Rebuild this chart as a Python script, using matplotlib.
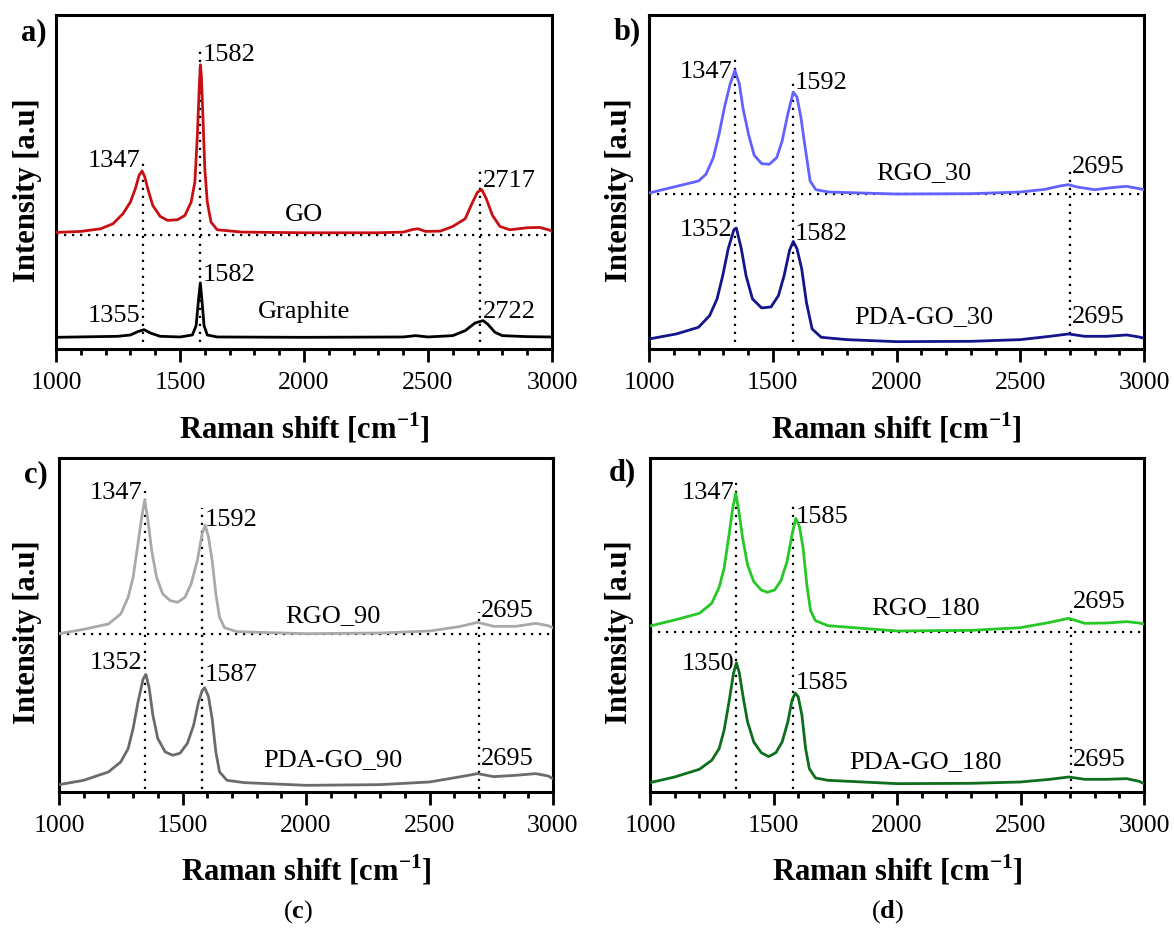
import matplotlib
matplotlib.use('Agg')
import matplotlib.pyplot as plt
from matplotlib.ticker import MultipleLocator

plt.rcParams['font.family'] = ['Liberation Serif', 'DejaVu Serif']
plt.rcParams['mathtext.fontset'] = 'custom'
plt.rcParams['mathtext.rm'] = 'Liberation Serif'
plt.rcParams['mathtext.bf'] = 'Liberation Serif:bold'

# ---------------- data (Raman shift in cm-1, intensity in arbitrary units) ----------------
go_x = [1000, 1100, 1180, 1230, 1270, 1300, 1320, 1335, 1347, 1358, 1370, 1390, 1420, 1450, 1490,
        1520, 1545, 1560, 1570, 1578, 1582, 1586, 1590, 1600, 1610, 1625, 1650, 1750, 2000, 2300,
        2400, 2440, 2460, 2490, 2550, 2600, 2650, 2680, 2700, 2717, 2735, 2760, 2790, 2830, 2900,
        2950, 2990, 3000]
go_y = [34.9, 35.2, 36.0, 37.5, 40.5, 44.0, 48.0, 52.0, 53.3, 51.5, 48.0, 43.0, 39.7, 38.5, 38.7,
        40.0, 44.0, 50.0, 64.0, 79.0, 85.1, 82.0, 74.4, 54.0, 44.0, 38.0, 35.7, 35.0, 34.8, 34.8,
        35.0, 35.8, 36.0, 35.2, 35.3, 36.7, 39.0, 44.0, 47.0, 47.7, 45.0, 40.0, 36.7, 35.7, 36.3,
        36.4, 35.6, 35.2]
graphite_x = [1000, 1250, 1300, 1330, 1355, 1380, 1420, 1500, 1550, 1565, 1575, 1582, 1588, 1597,
              1610, 1650, 2000, 2400, 2450, 2500, 2600, 2650, 2690, 2722, 2740, 2770, 2800, 2900, 3000]
graphite_y = [3.5, 3.8, 4.2, 5.2, 5.8, 4.8, 3.8, 3.6, 4.2, 7.0, 15.0, 19.8, 15.0, 7.0,
              4.2, 3.6, 3.5, 3.6, 4.0, 3.6, 4.0, 5.5, 7.8, 8.5, 7.5, 5.0, 4.0, 3.7, 3.6]

rgo30_x = [1000, 1100, 1200, 1230, 1260, 1283, 1305, 1328, 1347, 1365, 1380, 1403, 1425, 1455,
           1486, 1516, 1538, 1561, 1583, 1598, 1614, 1629, 1651, 1674, 1726, 2000, 2300,
           2500, 2600, 2660, 2695, 2730, 2800, 2880, 2930, 2980, 3000]
rgo30_y = [46.7, 48.5, 50.3, 52.3, 57.3, 64.3, 72.4, 79.4, 83.4, 79.4, 72.0, 64.0, 58.0, 55.5,
           55.3, 57.3, 62.3, 70.4, 76.9, 75.4, 69.3, 61.3, 50.3, 47.7, 47.0, 46.4, 46.5,
           47.0, 47.8, 48.8, 49.2, 48.5, 47.7, 48.4, 48.7, 48.0, 47.7]
pda30_x = [1000, 1110, 1200, 1245, 1275, 1298, 1320, 1343, 1353, 1373, 1392, 1418, 1455, 1493,
           1523, 1546, 1568, 1583, 1598, 1617, 1636, 1659, 1696, 1800, 2000, 2300,
           2500, 2620, 2695, 2760, 2850, 2930, 2980, 3000]
pda30_y = [3.0, 4.5, 6.5, 10.0, 15.0, 22.0, 30.0, 35.7, 36.2, 30.0, 22.0, 15.0, 12.3, 12.6,
           16.0, 22.0, 29.6, 32.2, 30.0, 24.0, 14.0, 6.0, 3.5, 2.8, 2.2, 2.3,
           2.8, 3.8, 4.5, 3.8, 3.8, 4.2, 3.6, 3.2]

rgo90_x = [1000, 1100, 1200, 1250, 1280, 1300, 1320, 1335, 1347, 1360, 1375, 1395, 1420, 1450,
           1480, 1510, 1535, 1560, 1580, 1592, 1605, 1620, 1635, 1650, 1670, 1720, 2000, 2300,
           2500, 2620, 2695, 2760, 2850, 2930, 2980, 3000]
rgo90_y = [47.4, 48.7, 50.3, 53.3, 58.3, 64.3, 74.4, 82.4, 87.4, 81.4, 72.4, 64.3, 59.3, 57.3,
           56.8, 58.3, 62.3, 69.3, 77.4, 79.9, 76.4, 69.3, 59.3, 52.3, 49.2, 48.0, 47.4, 47.6,
           48.2, 49.5, 50.8, 49.6, 49.6, 50.5, 49.8, 49.2]
pda90_x = [1000, 1100, 1200, 1250, 1280, 1300, 1320, 1340, 1352, 1365, 1380, 1400, 1430, 1460,
           1490, 1520, 1545, 1565, 1580, 1590, 1605, 1620, 1635, 1650, 1680, 1750, 2000, 2300,
           2500, 2620, 2695, 2760, 2850, 2930, 2980, 3000]
pda90_y = [2.2, 3.5, 6.0, 9.0, 13.0, 19.0, 27.0, 33.7, 35.2, 31.2, 23.0, 16.0, 12.0, 11.0,
           11.6, 14.6, 20.0, 27.0, 30.4, 31.2, 28.6, 22.0, 12.0, 6.0, 3.5, 2.8, 2.0, 2.2,
           3.0, 4.5, 5.5, 4.6, 5.0, 5.5, 4.8, 4.0]

rgo180_x = [1000, 1100, 1200, 1250, 1280, 1300, 1320, 1335, 1347, 1360, 1375, 1395, 1420, 1450,
            1475, 1505, 1530, 1555, 1575, 1590, 1605, 1620, 1635, 1650, 1670, 1720, 2000, 2300,
            2500, 2620, 2695, 2760, 2850, 2930, 2980, 3000]
rgo180_y = [49.7, 51.5, 53.5, 56.5, 61.3, 67.0, 77.0, 85.0, 89.4, 84.0, 76.0, 68.0, 63.0, 60.5,
            59.8, 60.5, 63.3, 69.0, 77.0, 81.9, 79.5, 73.0, 62.0, 54.3, 51.3, 49.8, 48.2, 48.4,
            49.2, 50.8, 52.0, 50.5, 50.6, 51.0, 50.6, 50.3]
pda180_x = [1000, 1100, 1200, 1250, 1280, 1300, 1320, 1338, 1350, 1362, 1378, 1395, 1420, 1450,
            1480, 1510, 1535, 1558, 1575, 1588, 1600, 1615, 1630, 1645, 1670, 1720, 2000, 2300,
            2500, 2620, 2695, 2760, 2850, 2930, 2980, 3000]
pda180_y = [2.8, 4.5, 6.8, 9.5, 13.0, 18.5, 27.0, 35.5, 38.7, 35.5, 28.0, 21.0, 15.0, 11.8,
            10.6, 11.8, 15.0, 21.0, 27.5, 29.6, 28.5, 23.0, 13.0, 7.0, 4.2, 3.5, 2.5, 2.6,
            3.0, 3.8, 4.5, 3.8, 3.8, 4.0, 3.2, 2.5]

# baselines of the upper spectra (dotted horizontal lines)
baseline_a, baseline_b, baseline_c, baseline_d = 34.2, 46.4, 47.2, 48.0

# peak marker lines: x position, lower and upper intensity
vlines_a = [(1350, 2, 57), (1582, 2, 90), (2710, 2, 54)]
vlines_b = [(1347, 2, 87), (1580, 2, 81), (2700, 2, 54)]
vlines_c = [(1347, 1, 90), (1580, 1, 85), (2700, 1, 54)]
vlines_d = [(1350, 1, 93), (1580, 1, 87), (2703, 1, 56)]

# peak labels: text, x anchor, intensity, side of marker line
labels_a = [("1347", 1350, 56.3, "l"), ("1582", 1582, 88.0, "r"), ("2717", 2710, 50.3, "r"),
            ("1355", 1350, 10.0, "l"), ("1582", 1582, 22.1, "r"), ("2722", 2710, 11.1, "r")]
labels_b = [("1347", 1347, 83.0, "l"), ("1592", 1580, 79.6, "r"), ("2695", 2700, 54.6, "r"),
            ("1352", 1347, 35.7, "l"), ("1582", 1580, 34.5, "r"), ("2695", 2700, 9.5, "r")]
labels_c = [("1347", 1347, 89.5, "l"), ("1592", 1580, 81.4, "r"), ("2695", 2700, 54.3, "r"),
            ("1352", 1347, 38.6, "l"), ("1587", 1580, 35.0, "r"), ("2695", 2700, 10.0, "r")]
labels_d = [("1347", 1350, 89.4, "l"), ("1585", 1580, 82.4, "r"), ("2695", 2703, 56.8, "r"),
            ("1350", 1350, 38.2, "l"), ("1585", 1580, 32.7, "r"), ("2695", 2703, 9.5, "r")]

names_a = [("GO", 2000, 40.2), ("Graphite", 2000, 11.1)]
names_b = [("RGO_30", 2110, 52.8), ("PDA-GO_30", 2110, 9.5)]
names_c = [("RGO_90", 2109, 52.8), ("PDA-GO_90", 2109, 9.5)]
names_d = [("RGO_180", 2115, 55.0), ("PDA-GO_180", 2115, 9.0)]

xticks_major = [1000, 1500, 2000, 2500, 3000]

# ---------------- figure ----------------
W, H = 1174, 935
fig = plt.figure(figsize=(W / 100, H / 100), dpi=100)


def make_ax(l, t, r, b):
    return fig.add_axes([l / W, 1 - b / H, (r - l) / W, (b - t) / H])


def style(ax):
    ax.set_xlim(1000, 3000)
    ax.set_ylim(0, 100)
    ax.set_yticks([])
    ax.set_xticks(xticks_major)
    ax.xaxis.set_minor_locator(MultipleLocator(100))
    ax.tick_params(axis='x', which='major', direction='out', length=9.5, width=2,
                   labelsize=18.5, pad=7)
    ax.tick_params(axis='x', which='minor', direction='out', length=4.5, width=2)
    for s in ax.spines.values():
        s.set_linewidth(2.2)


def decorate(ax, base, vls, labs, names):
    ax.axhline(base, color='black', lw=1.6, ls=(0, (1, 2.6)), zorder=1)
    for x, y0, y1 in vls:
        ax.plot([x, x], [y0, y1], color='black', lw=1.6, ls=(0, (1, 2.6)), zorder=1)
    for txt, x, y, side in labs:
        if side == 'l':
            ax.text(x - 10, y, txt, ha='right', va='center', fontsize=19)
        else:
            ax.text(x + 10, y, txt, ha='left', va='center', fontsize=19)
    for txt, x, y in names:
        ax.text(x, y, txt, ha='center', va='center', fontsize=19)


axa = make_ax(56, 15, 552, 349)
axb = make_ax(649, 15, 1144, 349)
axc = make_ax(59, 458, 553, 792)
axd = make_ax(650, 458, 1144, 792)

lw = 2.0
axa.plot(go_x, go_y, color='#c80f14', lw=lw, zorder=3)
axa.plot(graphite_x, graphite_y, color='black', lw=lw, zorder=3)
axb.plot(rgo30_x, rgo30_y, color='#6262ff', lw=lw, zorder=3)
axb.plot(pda30_x, pda30_y, color='#14148c', lw=lw, zorder=3)
axc.plot(rgo90_x, rgo90_y, color='#a9a9a9', lw=lw, zorder=3)
axc.plot(pda90_x, pda90_y, color='#6b6b6b', lw=lw, zorder=3)
axd.plot(rgo180_x, rgo180_y, color='#25c825', lw=lw, zorder=3)
axd.plot(pda180_x, pda180_y, color='#0d6e1c', lw=lw, zorder=3)

decorate(axa, baseline_a, vlines_a, labels_a, names_a)
decorate(axb, baseline_b, vlines_b, labels_b, names_b)
decorate(axc, baseline_c, vlines_c, labels_c, names_c)
decorate(axd, baseline_d, vlines_d, labels_d, names_d)

for ax in (axa, axb, axc, axd):
    style(ax)

xlabel = r'Raman shift [cm$^{\mathbf{-1}}$]'
for cx, cy in [(304, 428), (896, 428), (306, 870), (897, 870)]:
    fig.text(cx / W, 1 - cy / H, xlabel, ha='center', va='center', fontsize=22, fontweight='bold')
for cx, cy in [(28, 190), (620, 190), (28, 632), (620, 632)]:
    fig.text(cx / W, 1 - cy / H, 'Intensity [a.u]', ha='center', va='center', rotation=90,
             fontsize=22, fontweight='bold')
for txt, cx, cy in [('a)', 34, 33), ('b)', 627, 32), ('c)', 36, 475), ('d)', 622, 473)]:
    fig.text(cx / W, 1 - cy / H, txt, ha='center', va='center', fontsize=22, fontweight='bold')
for txt, cx in [('c', 298), ('d', 888)]:
    fig.text(cx / W, 1 - 912 / H, '(' + r'$\mathbf{' + txt + '}$' + ')', ha='center',
             va='center', fontsize=19)

fig.savefig('out.png', dpi=100)
